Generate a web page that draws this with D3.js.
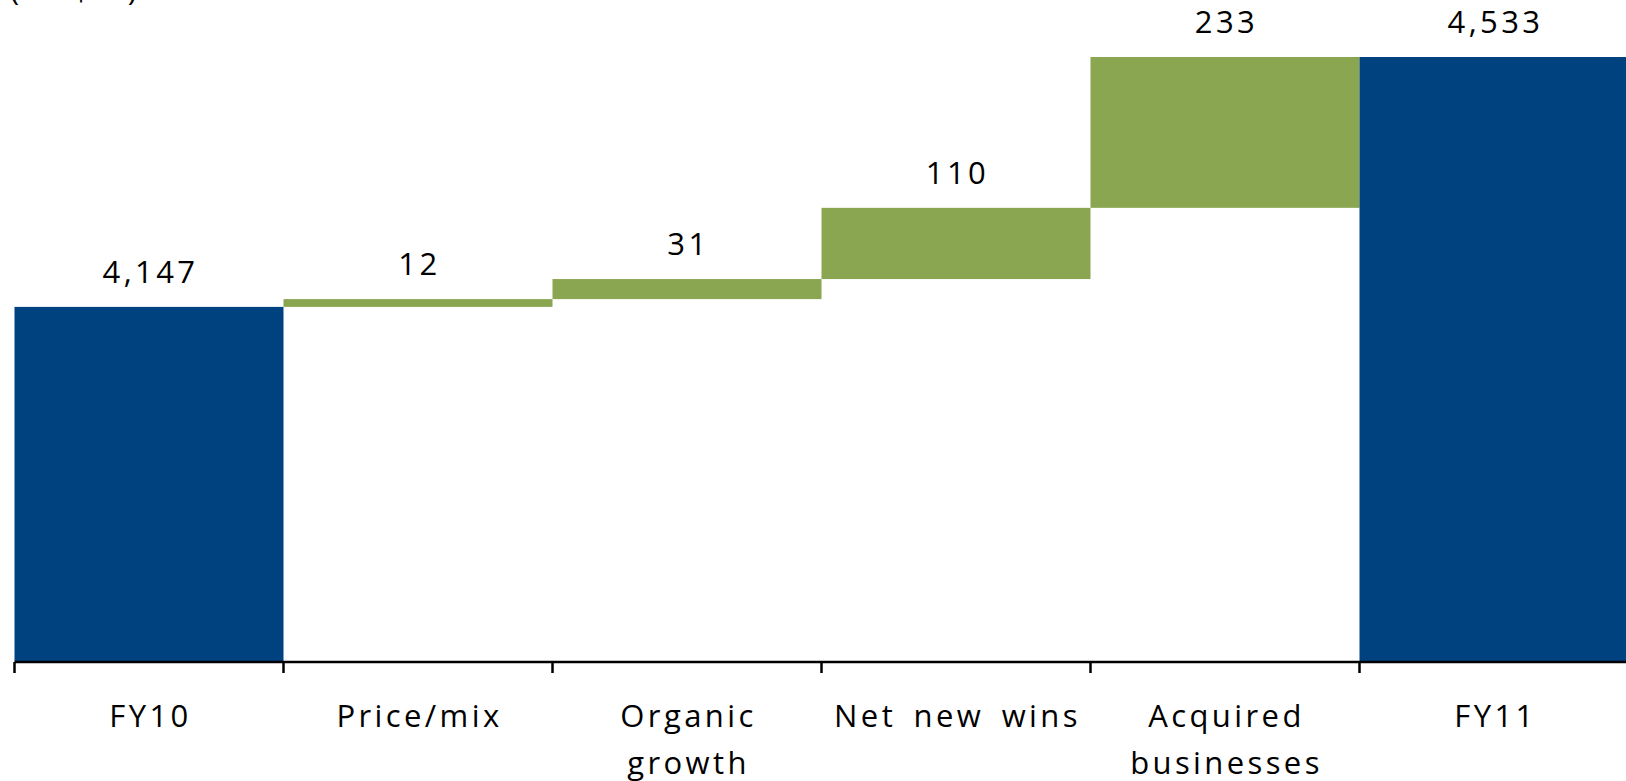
<!DOCTYPE html>
<html>
<head>
<meta charset="utf-8">
<script src="https://cdn.jsdelivr.net/npm/d3@7"></script>
<style>
  html, body { margin: 0; padding: 0; background: #fff; overflow: hidden; }
  text { font-family: "Open Sans", "Noto Sans", sans-serif; fill: #000; }
</style>
</head>
<body>
<svg id="chart"></svg>
<script>
// bridge FY10 -> FY11 (US$m)
var categories = ["FY10", "Price/mix", "Organic growth", "Net new wins", "Acquired businesses", "FY11"];
var labelLines = [["FY10"], ["Price/mix"], ["Organic", "growth"], ["Net new wins"], ["Acquired", "businesses"], ["FY11"]];
var values = [4147, 12, 31, 110, 233, 4533];
var kinds = ["total", "delta", "delta", "delta", "delta", "total"];
var valueLabels = ["4,147", "12", "31", "110", "233", "4,533"];
var unitLabel = "(US$m)";

var width = 1626, height = 781;
var blue = "#004180", green = "#8ba650";

var svg = d3.select("#chart").attr("width", width).attr("height", height);

// build the waterfall steps
var running = 0;
var steps = values.map(function(v, i) {
  var s;
  if (kinds[i] == "total") { s = {start: 3600, end: v}; running = v; }
  else { s = {start: running, end: running + v}; running += v; }
  s.cat = categories[i]; s.kind = kinds[i]; s.label = valueLabels[i]; s.lines = labelLines[i];
  return s;
});

var band = 269;
var x = d3.scaleBand().domain(categories)
    .range([14.5, 14.5 + band * categories.length]).padding(0);
var y = d3.scaleLinear().domain([3600, 4533]).range([661, 57]);

// unit label, mostly cut off at the top
svg.append("text").attr("x", 10).attr("y", 0)
  .style("font-size", "31px").style("letter-spacing", "4.5px")
  .text(unitLabel);

svg.selectAll("rect.bar").data(steps)
  .enter().append("rect")
  .attr("class", "bar")
  .attr("x", function(d) { return x(d.cat); })
  .attr("width", x.bandwidth())
  .attr("y", function(d) { return y(Math.max(d.start, d.end)); })
  .attr("height", function(d) { return Math.abs(y(d.start) - y(d.end)); })
  .style("fill", function(d) { return d.kind == "total" ? blue : green; });

svg.selectAll("text.val").data(steps)
  .enter().append("text")
  .attr("class", "val")
  .attr("x", function(d) { return x(d.cat) + x.bandwidth() / 2 + 1.5; })
  .attr("y", function(d) { return y(Math.max(d.start, d.end)) - 24; })
  .attr("text-anchor", "middle")
  .style("font-size", "31px").style("letter-spacing", "3.4px")
  .text(function(d) { return d.label; });

// axis line + ticks at the band edges
var axisY = 662;
svg.append("line")
  .attr("x1", x.range()[0]).attr("x2", x.range()[1])
  .attr("y1", axisY).attr("y2", axisY)
  .style("stroke", "#000").style("stroke-width", 2.5);

svg.selectAll("line.tick").data(categories)
  .enter().append("line")
  .attr("class", "tick")
  .attr("x1", function(d) { return x(d); }).attr("x2", function(d) { return x(d); })
  .attr("y1", axisY).attr("y2", axisY + 11)
  .style("stroke", "#000").style("stroke-width", 2.5);

var cat = svg.selectAll("text.cat").data(steps)
  .enter().append("text")
  .attr("class", "cat")
  .attr("text-anchor", "middle")
  .style("font-size", "31px").style("letter-spacing", "3.4px")
  .style("word-spacing", "6px");

cat.selectAll("tspan").data(function(d) {
    return d.lines.map(function(l) { return {t: l, cx: x(d.cat) + x.bandwidth() / 2 + 1.5}; });
  })
  .enter().append("tspan")
  .attr("x", function(d) { return d.cx; })
  .attr("y", function(d, i) { return 727 + i * 47; })
  .text(function(d) { return d.t; });
</script>
</body>
</html>
